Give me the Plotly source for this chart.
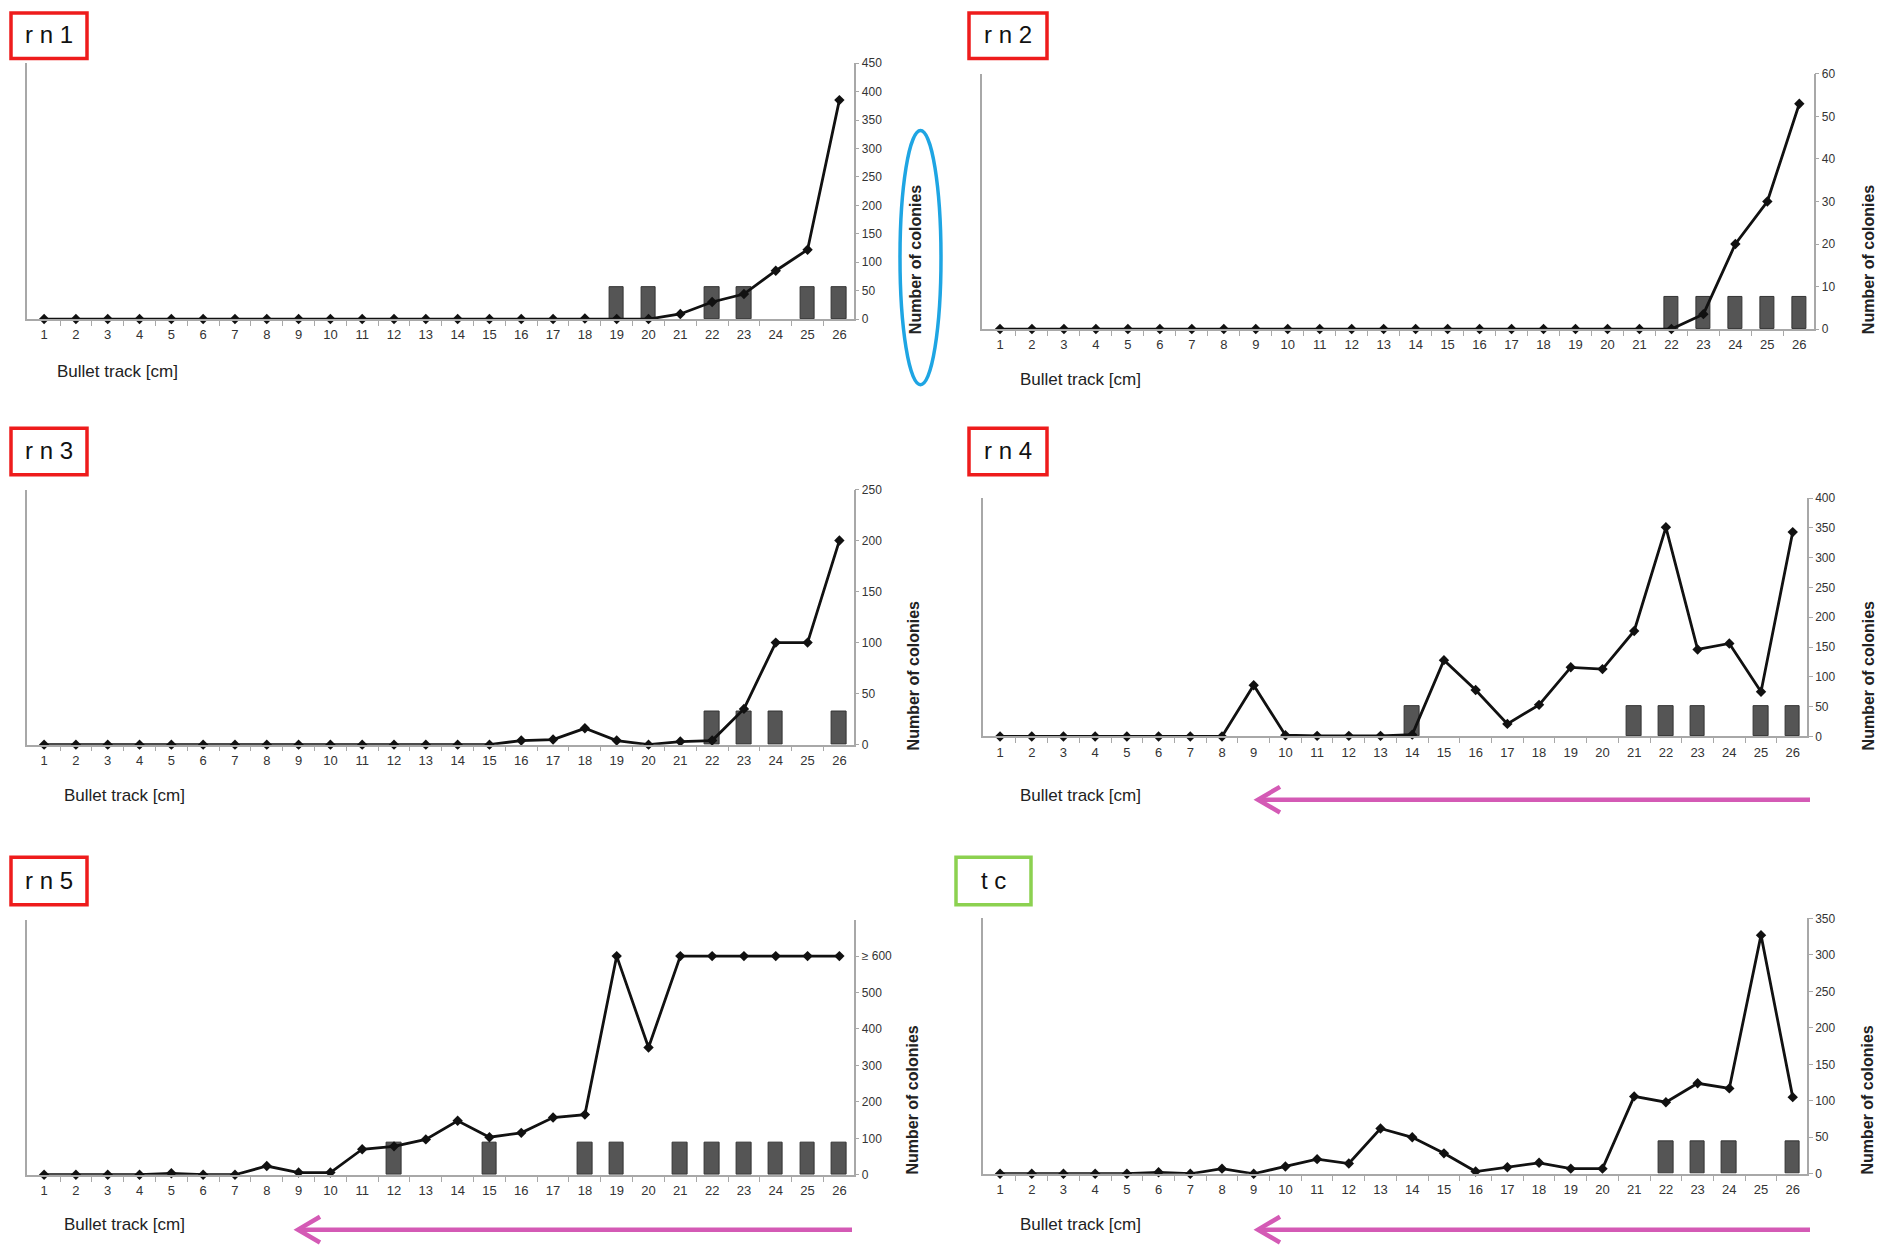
import plotly.graph_objects as go

W, H = 1896, 1248

# ---------------- data ----------------
positions = list(range(1, 27))
x_tick_labels = [str(p) for p in positions]

rn1_counts = [0, 0, 0, 0, 0, 0, 0, 0, 0, 0, 0, 0, 0, 0, 0, 0, 0, 1, 0, 0, 9, 30, 44, 85, 122, 385]
rn2_counts = [0, 0, 0, 0, 0, 0, 0, 0, 0, 0, 0, 0, 0, 0, 0, 0, 0, 0, 0, 0, 0, 0, 3.5, 20, 30, 53]
rn3_counts = [0, 0, 0, 0, 0, 0, 0, 0, 0, 0, 0, 0, 0, 0, 0, 4, 5, 16, 4, 0, 3, 4, 35, 100, 100, 200]
rn4_counts = [0, 0, 0, 0, 0, 0, 0, 0, 86, 2, 1, 1, 1, 3, 128, 78, 21, 53, 116, 113, 177, 351, 146, 156, 75, 343]
rn5_counts = [0, 0, 0, 0, 4, 0, 0, 24, 6, 6, 70, 78, 97, 148, 103, 115, 157, 165, 600, 349, 600, 600, 600, 600, 600, 600]
tc_counts = [0, 0, 0, 0, 0, 2, 0, 7, 0, 10, 20, 14, 62, 50, 28, 3, 9, 15, 7, 7, 106, 98, 124, 117, 327, 105]

rn1_bars = [19, 20, 22, 23, 25, 26]
rn2_bars = [22, 23, 24, 25, 26]
rn3_bars = [22, 23, 24, 26]
rn4_bars = [14, 21, 22, 23, 25, 26]
rn5_bars = [12, 15, 18, 19, 21, 22, 23, 24, 25, 26]
tc_bars = [22, 23, 24, 26]

bar_heights = {"rn1": 56, "rn2": 7.5, "rn3": 32, "rn4": 51, "rn5": 89, "tc": 45}

rn1_yticks = [0, 50, 100, 150, 200, 250, 300, 350, 400, 450]
rn2_yticks = [0, 10, 20, 30, 40, 50, 60]
rn3_yticks = [0, 50, 100, 150, 200, 250]
rn4_yticks = [0, 50, 100, 150, 200, 250, 300, 350, 400]
rn5_yticks = [0, 100, 200, 300, 400, 500, 600]
rn5_yticktext = ["0", "100", "200", "300", "400", "500", "≥ 600"]
tc_yticks = [0, 50, 100, 150, 200, 250, 300, 350]

panel_names = ["r n 1", "r n 2", "r n 3", "r n 4", "r n 5", "t c"]
x_title = "Bullet track [cm]"
y_title = "Number of colonies"

# ---------------- layout geometry (pixels) ----------------
def fx(p):
    return p / W

def fy(p):
    return 1 - p / H

panels = [
    dict(key="rn1", counts=rn1_counts, bars=rn1_bars, yticks=rn1_yticks, yticktext=None, yr=[0, 450],
         x0=26.6, x1=853.7, ybot=315.6, ytop=56.8, box=(11, 6, 87, 52), boxcol="#ee1c1c",
         xlab=(55, 369), ytl=(915, 256), arrow=None),
    dict(key="rn2", counts=rn2_counts, bars=rn2_bars, yticks=rn2_yticks, yticktext=None, yr=[0, 60],
         x0=982.4, x1=1813.7, ybot=325.7, ytop=67.7, box=(969, 6, 1047, 52), boxcol="#ee1c1c",
         xlab=(1018, 377), ytl=(1868, 256), arrow=None),
    dict(key="rn3", counts=rn3_counts, bars=rn3_bars, yticks=rn3_yticks, yticktext=None, yr=[0, 250],
         x0=26.6, x1=853.7, ybot=746.0, ytop=488.0, box=(11, 426, 87, 473), boxcol="#ee1c1c",
         xlab=(62, 797), ytl=(913, 677), arrow=None),
    dict(key="rn4", counts=rn4_counts, bars=rn4_bars, yticks=rn4_yticks, yticktext=None, yr=[0, 400],
         x0=982.6, x1=1807.0, ybot=737.7, ytop=496.7, box=(969, 426, 1047, 473), boxcol="#ee1c1c",
         xlab=(1018, 797), ytl=(1868, 677), arrow=(1810, 1258, 801.7)),
    dict(key="rn5", counts=rn5_counts, bars=rn5_bars, yticks=rn5_yticks, yticktext=rn5_yticktext, yr=[0, 700],
         x0=26.6, x1=853.7, ybot=1181.0, ytop=923.0, box=(11, 860, 87, 908), boxcol="#ee1c1c",
         xlab=(62, 1231), ytl=(913, 1106), arrow=(852, 298, 1236.5)),
    dict(key="tc", counts=tc_counts, bars=tc_bars, yticks=tc_yticks, yticktext=None, yr=[0, 350],
         x0=982.6, x1=1807.0, ybot=1180.0, ytop=921.7, box=(956, 860, 1031, 908), boxcol="#8cd150",
         xlab=(1018, 1231), ytl=(1868, 1106), arrow=(1810, 1258, 1236.5)),
]

FONT = "Liberation Sans, Arial, Helvetica, sans-serif"
AXCOL = "#a8a8a8"

fig = go.Figure()
layout = dict(
    width=W, height=H, margin=dict(l=0, r=0, t=0, b=0),
    paper_bgcolor="white", plot_bgcolor="white", showlegend=False,
    font=dict(family=FONT, color="#222"),
)
annotations = []
shapes = []

boundaries = [p + 0.5 for p in positions[:-1]]

for i, pn in enumerate(panels):
    n = i + 1
    xa = "x" if n == 1 else f"x{n}"
    ya = "y" if n == 1 else f"y{n}"
    xkey = "xaxis" if n == 1 else f"xaxis{n}"
    ykey = "yaxis" if n == 1 else f"yaxis{n}"

    # bars (marker positions)
    fig.add_trace(go.Bar(
        x=pn["bars"], y=[bar_heights[pn["key"]]] * len(pn["bars"]),
        width=0.46, marker=dict(color="#555555", line=dict(color="#333333", width=1)),
        xaxis=xa, yaxis=ya, hoverinfo="skip",
    ))
    # colony counts line
    fig.add_trace(go.Scatter(
        x=positions, y=pn["counts"], mode="lines+markers",
        line=dict(color="#111111", width=2.8),
        marker=dict(symbol="diamond", size=8, color="#111111"),
        xaxis=xa, yaxis=ya, cliponaxis=False,
    ))

    layout[xkey] = dict(
        domain=[fx(pn["x0"]), fx(pn["x1"])], anchor=ya,
        range=[0.45, 26.45], tickmode="array", tickvals=positions, ticktext=x_tick_labels,
        ticks="", showline=True, linecolor=AXCOL, linewidth=1.5,
        showgrid=False, zeroline=False, fixedrange=True,
        tickfont=dict(size=13, color="#333", family=FONT), ticklabelstandoff=3,
        minor=dict(tickvals=boundaries, ticks="outside", ticklen=5, tickcolor=AXCOL, tickwidth=1),
    )
    layout[ykey] = dict(
        domain=[fy(pn["ybot"]), fy(pn["ytop"])], anchor=xa, side="right",
        range=pn["yr"], tickmode="array", tickvals=pn["yticks"],
        ticktext=pn["yticktext"] if pn["yticktext"] else [str(v) for v in pn["yticks"]],
        ticks="outside", ticklen=4, tickcolor=AXCOL, showline=True, linecolor=AXCOL,
        linewidth=1.5, mirror=True, showgrid=False, zeroline=False, fixedrange=True,
        tickfont=dict(size=12, color="#333", family=FONT),
    )

    # x axis title (left aligned under the axis)
    annotations.append(dict(
        x=fx(pn["xlab"][0]), y=fy(pn["xlab"][1]), xref="paper", yref="paper",
        text=x_title, showarrow=False, xanchor="left", yanchor="middle",
        font=dict(size=17, color="#222", family=FONT),
    ))
    # y axis title (rotated, right side)
    annotations.append(dict(
        x=fx(pn["ytl"][0]), y=fy(pn["ytl"][1]), xref="paper", yref="paper",
        text=y_title, showarrow=False, textangle=-90, xanchor="center", yanchor="middle",
        font=dict(size=16, color="#222", family=FONT, weight="bold"),
    ))
    # panel label box
    bx0, by0, bx1, by1 = pn["box"]
    shapes.append(dict(
        type="rect", xref="paper", yref="paper",
        x0=fx(bx0), x1=fx(bx1), y0=fy(by1), y1=fy(by0),
        line=dict(color=pn["boxcol"], width=3.5), fillcolor="rgba(0,0,0,0)",
    ))
    annotations.append(dict(
        x=fx((bx0 + bx1) / 2), y=fy((by0 + by1) / 2 - 1), xref="paper", yref="paper",
        text=panel_names[i], showarrow=False, xanchor="center", yanchor="middle",
        font=dict(size=24, color="#111", family=FONT),
    ))
    # direction arrow
    if pn["arrow"]:
        ax0, ax1, ay = pn["arrow"]
        shapes.append(dict(
            type="line", xref="paper", yref="paper",
            x0=fx(ax0), x1=fx(ax1 + 2), y0=fy(ay), y1=fy(ay),
            line=dict(color="#d45ab5", width=4.5),
        ))
        shapes.append(dict(
            type="path", xref="paper", yref="paper",
            path=(f"M {fx(ax1 + 22)},{fy(ay - 13)} L {fx(ax1)},{fy(ay)} "
                  f"L {fx(ax1 + 22)},{fy(ay + 13)}"),
            line=dict(color="#d45ab5", width=4.5),
        ))

# blue ellipse highlighting the y-axis title of rn1
shapes.append(dict(
    type="circle", xref="paper", yref="paper",
    x0=fx(900), x1=fx(941), y0=fy(382), y1=fy(125),
    line=dict(color="#1ea5e3", width=3.5),
))

layout["annotations"] = annotations
layout["shapes"] = shapes
layout["bargap"] = 0
fig.update_layout(**layout)

fig.write_html(
    "out.html",
    config={"displayModeBar": False},
    post_script="document.body.style.margin='0px';document.body.style.overflow='hidden';",
)
